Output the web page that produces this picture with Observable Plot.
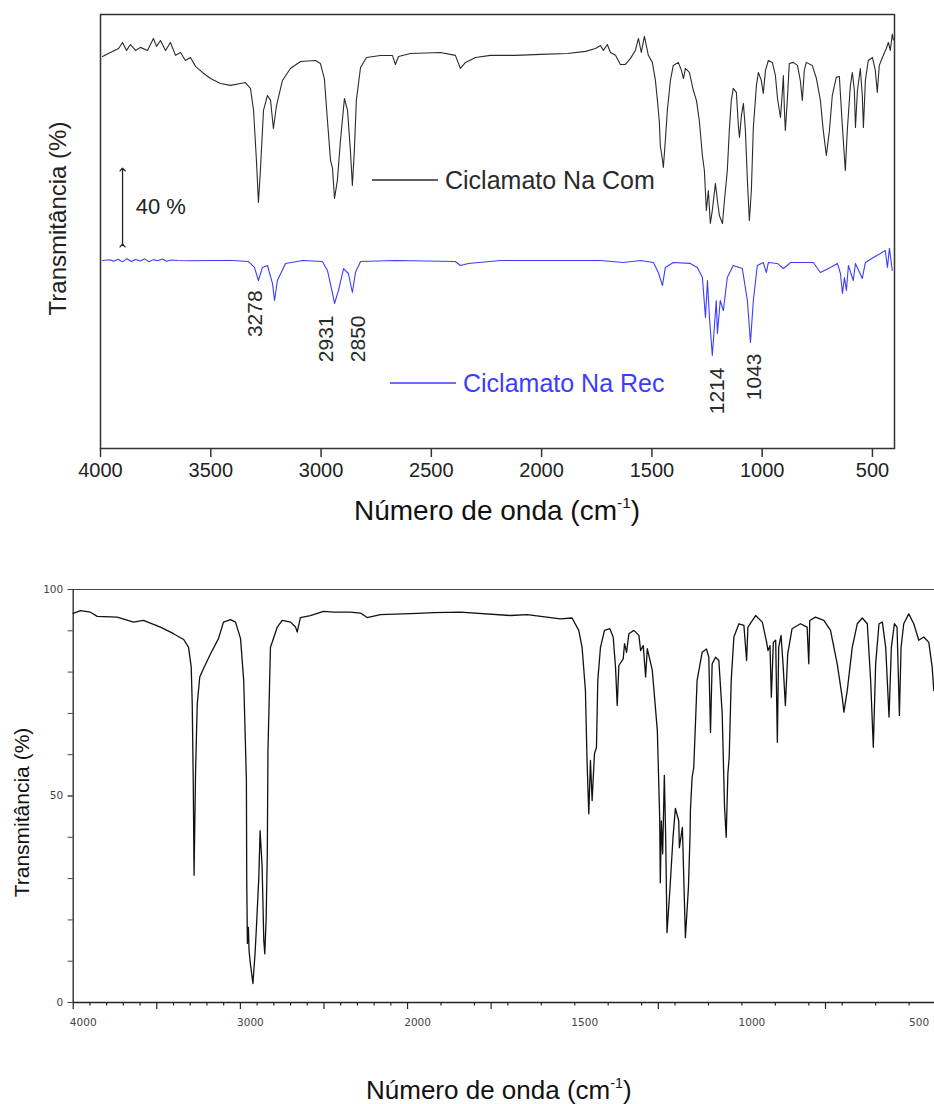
<!DOCTYPE html>
<html><head><meta charset="utf-8">
<script src="https://cdn.jsdelivr.net/npm/d3@7"></script>
<script src="https://cdn.jsdelivr.net/npm/@observablehq/plot@0.6"></script>
<style>
body{margin:0;background:#fff;}
#page{position:relative;width:934px;height:1104px;overflow:hidden;background:#fff;font-family:"Liberation Sans",Arial,sans-serif;}
#page svg{position:absolute;left:0;}
.ttl{position:absolute;white-space:nowrap;line-height:1;color:#111;}
.ttl sup{font-size:0.55em;line-height:0;vertical-align:0.75em;}
</style></head><body><div id="page"></div>
<script>
// ---------- Top panel: FTIR of sodium cyclamate (commercial vs recovered) ----------
const comW = [3991,3955,3918,3900,3882,3864,3841,3819,3787,3760,3746,3728,3705,3683,3660,3637,3615,3592,3569,3538,3501,3456,3411,3365,3343,3320,3306,3293,3284,3275,3261,3243,3229,3216,3202,3175,3139,3093,3025,3003,2985,2971,2957,2948,2939,2926,2912,2894,2880,2867,2858,2849,2840,2821,2794,2731,2676,2663,2649,2595,2459,2391,2368,2345,2300,2232,2119,2005,1883,1801,1756,1733,1720,1702,1688,1665,1643,1620,1597,1575,1561,1548,1534,1516,1498,1484,1475,1466,1462,1453,1448,1439,1430,1416,1403,1380,1366,1357,1348,1330,1312,1298,1285,1271,1262,1253,1244,1235,1226,1212,1203,1194,1180,1171,1158,1149,1140,1131,1117,1108,1103,1094,1085,1076,1067,1058,1049,1040,1026,1017,1004,995,985,972,954,940,931,922,917,908,904,899,895,886,877,859,840,827,818,809,800,773,754,736,723,709,695,682,664,650,636,623,614,600,591,582,577,568,555,546,541,532,519,500,487,478,469,455,437,428,419,410,405];
const comT = [93.3,95.4,97.5,100.7,96.5,99.6,96.5,98.1,96.5,102.8,98.6,101.7,96.5,100.7,93.9,95.4,91.2,92.8,88.1,84.9,81.7,79.1,78.1,79.1,79.6,76.5,64.9,38.6,16.5,33.3,64.9,72.8,70.2,55.4,67.5,80.7,87.0,90.7,91.2,89.6,81.7,59.6,38.6,34.4,18.6,28.1,49.1,71.2,64.9,43.9,25.4,43.9,70.2,87.5,92.8,93.8,93.8,89.1,93.3,94.9,95.4,93.9,87.0,90.2,92.8,93.9,93.9,94.4,94.9,96.0,97.5,99.1,96.5,99.6,95.4,93.9,89.1,89.1,92.3,96.5,102.8,95.4,103.9,93.9,90.2,80.7,70.2,58.6,46.5,39.6,34.9,49.1,64.9,80.7,88.6,90.2,86.0,81.7,87.0,84.9,75.4,70.2,59.6,41.2,33.3,12.3,22.8,5.4,12.3,26.5,17.5,9.6,5.4,17.5,33.3,54.4,70.2,76.5,74.4,57.0,50.7,62.3,68.6,54.4,28.1,7.0,22.8,55.9,78.1,84.9,80.7,73.9,86.0,91.2,90.2,83.3,71.7,64.9,61.2,75.4,83.3,64.9,54.4,70.2,89.6,90.2,88.6,80.7,70.2,86.0,90.2,88.6,81.7,70.2,54.4,41.2,54.4,72.8,82.3,82.8,56.0,33.3,54.4,78.1,84.9,75.4,56.0,75.4,87.0,72.8,56.0,80.7,91.2,92.8,86.0,74.4,88.6,92.8,97.5,100.7,96.5,105.1,102];
const recW = [3991,3960,3940,3920,3900,3880,3860,3840,3820,3800,3780,3760,3740,3720,3700,3680,3650,3600,3500,3400,3329,3302,3284,3266,3243,3220,3211,3198,3161,3084,2994,2971,2948,2939,2921,2898,2876,2858,2844,2821,2663,2391,2368,2332,2187,1733,1629,1552,1493,1471,1452,1439,1403,1326,1294,1271,1257,1248,1239,1226,1217,1208,1203,1190,1176,1158,1131,1090,1067,1053,1040,1022,995,981,972,931,904,886,872,768,736,691,659,645,636,627,618,609,587,577,546,532,496,464,442,432,423,410];
const recT = [98.9,99.3,98.6,99.6,98.2,99.9,98.4,99.5,98.7,99.8,98.3,99.4,98.8,99.7,98.5,99.2,98.9,98.8,98.9,98.9,98.4,95.3,88.4,95.3,96.3,86.8,77.9,88.4,97.4,98.9,98.4,93.7,81.6,76.3,83.2,94.7,92.1,82.1,92.6,98.4,98.9,98.4,96.3,97.4,98.9,98.9,97.9,98.9,97.9,92.6,85.8,95.3,97.9,97.4,95.3,90.0,68.9,88.4,68.9,48.9,63.7,77.9,60.5,77.9,72.6,90.0,96.3,94.7,77.9,55.8,77.9,96.3,97.9,92.6,97.9,97.4,94.7,96.3,97.9,97.9,92.6,95.3,97.4,92.1,81.6,90.0,83.2,96.3,88.4,97.4,89.5,97.9,100.5,102.6,104.2,95.3,105.3,93.7];
const seriesNames = ["Ciclamato Na Com", "Ciclamato Na Rec"];
const comOffset = 113;            // vertical stacking offset of the upper trace (%)
const topTicks = [4000,3500,3000,2500,2000,1500,1000,500];
const peakLabels = ["3278","2931","2850","1214","1043"];
const peakLabelAt = [3297,2976,2830,1203,1035];   // wavenumber where each label sits
const peakLabelTop = [83.2,70.0,70.0,42.6,50.0];
const scaleBarPercent = 40;
const scaleBarBase = 106.8;
const scaleBarW = 3900;

// ---------- Bottom panel: reference spectrum ----------
const sysW = [4000,3956,3897,3856,3737,3639,3580,3478,3400,3339,3310,3294,3288,3282,3277,3268,3258,3243,3221,3179,3131,3101,3059,3029,2999,2980,2964,2962,2958,2952,2948,2942,2925,2912,2904,2890,2882,2870,2860,2854,2846,2839,2835,2820,2780,2750,2700,2670,2660,2641,2581,2503,2443,2342,2282,2242,2162,1971,1922,1842,1692,1642,1543,1508,1488,1478,1468,1463,1458,1453,1448,1441,1435,1431,1423,1411,1395,1385,1378,1373,1368,1355,1351,1345,1338,1323,1308,1303,1295,1288,1283,1268,1253,1246,1244,1241,1237,1232,1228,1224,1215,1206,1199,1189,1187,1178,1169,1160,1155,1154,1149,1144,1134,1119,1106,1099,1094,1089,1079,1069,1059,1052,1047,1042,1038,1032,1024,1009,994,986,982,959,939,926,922,916,912,906,899,894,890,883,877,870,863,850,825,805,800,797,780,755,735,715,700,695,685,670,655,640,625,615,607,600,590,580,570,560,553,544,536,529,524,516,501,486,471,456,441,431,426];
const sysT = [94.2,94.9,94.5,93.5,93.3,92.1,92.5,90.9,89.3,87.9,86.0,81.2,72.3,53.8,30.8,56.0,72.3,78.8,80.8,84.4,88.1,92.1,92.7,92.1,88.1,77.9,53.8,30.0,14.3,18.2,12.6,10.0,4.6,12.0,18.2,30.0,41.6,33.0,15.0,11.8,20.0,36.0,61.0,86.0,90.8,92.5,92.1,90.9,89.7,93.2,93.7,94.7,94.5,94.5,94.3,93.2,93.9,94.2,94.4,94.5,93.7,93.9,92.9,93.1,90.1,86.0,75.5,57.8,45.7,58.6,48.9,60.2,61.8,78.0,86.0,90.1,90.5,88.5,81.2,71.9,81.6,83.2,86.9,84.8,89.3,90.1,88.9,85.2,86.4,78.8,85.7,80.4,65.9,45.0,29.0,44.0,36.0,55.0,40.0,16.9,27.8,40.0,47.0,44.0,37.5,42.4,15.7,27.8,40.9,46.5,54.5,56.9,78.0,84.8,85.6,83.6,65.4,82.0,83.6,82.8,70.0,47.3,40.0,55.4,59.4,78.0,88.5,91.7,91.3,82.8,90.9,93.7,92.1,87.2,85.2,86.4,73.9,87.2,87.7,63.0,86.0,88.9,82.0,71.9,84.4,90.5,91.7,90.9,82.0,92.5,93.3,92.5,90.1,82.0,73.9,70.3,75.5,86.0,91.7,93.1,91.7,78.0,61.8,82.0,91.7,92.1,86.0,69.1,86.0,91.7,90.9,69.5,86.0,91.7,94.1,91.7,87.7,88.5,87.2,81.2,75.5];
const bottomLabelTicks = [4000,3000,2000,1500,1000,500];
const bottomLongTicks = [4000,3500,3000,2500,2000,1750,1250,750];
const bottomShortTicks = [3900,3800,3700,3600,3400,3300,3200,3100,2900,2800,2700,2600,2400,2300,2200,2100,1900,1800,1700,1600,1500,1400,1300,1200,1100,1000,900,800,700,600,500];
const yLabelTicks = [0,50,100];
const yMinorTicks = [0,10,20,30,40,50,60,70,80,90,100];
const bottomEnd = 424;

const yTitle = "Transmitância (%)";
const page = document.getElementById("page");

// ===== TOP PLOT =====
const com = comW.map((w,i)=>({w, v: comT[i] + comOffset}));
const rec = recW.map((w,i)=>({w, v: recT[i]}));
const font = "'Liberation Sans', Arial, sans-serif";

const topSvg = Plot.plot({
  width: 934, height: 540,
  marginLeft: 100, marginRight: 40, marginTop: 14, marginBottom: 92,
  style: {fontFamily: font, background: "transparent", color: "#222"},
  x: {domain: [4000, 400]},
  y: {domain: [0, 228.4], axis: null},
  marks: [
    Plot.axisX({ticks: topTicks, tickSize: 9, tickPadding: 5, fontSize: 20, tickFormat: d => String(d), label: null, stroke: "#333", strokeWidth: 1.5, fill: "#222"}),
    Plot.line(com, {x: "w", y: "v", stroke: "#2b2b2b", strokeWidth: 1.1, strokeLinejoin: "round"}),
    Plot.line(rec, {x: "w", y: "v", stroke: "#3c3cff", strokeWidth: 1.1, strokeLinejoin: "round"}),
    Plot.text(peakLabels, {x: (d,i) => peakLabelAt[i], y: (d,i) => peakLabelTop[i], text: d => d, rotate: -90, textAnchor: "end", fontSize: 21, fill: "#2a2a2a"}),
    Plot.link([scaleBarPercent], {x1: () => scaleBarW, x2: () => scaleBarW, y1: () => scaleBarBase, y2: d => scaleBarBase + d, stroke: "#222", strokeWidth: 1.3, markerStart: "arrow", markerEnd: "arrow"}),
    Plot.text([scaleBarPercent], {x: () => scaleBarW - 60, y: d => scaleBarBase + d/2 + 0.5, text: d => `${d} %`, textAnchor: "start", fontSize: 22, fill: "#222"}),
    Plot.text([yTitle], {frameAnchor: "left", textAnchor: "middle", dx: -42, dy: -13, rotate: -90, fontSize: 24, fill: "#222"}),
    Plot.frame({stroke: "#333", strokeWidth: 1.5})
  ]
});
topSvg.style.top = "0px";
page.appendChild(topSvg);

// legend (inside the top plot)
const lg = d3.select(topSvg).append("g").attr("font-family", font).attr("font-size", 25).attr("text-anchor", "start");
const legendItems = [
  {name: seriesNames[0], color: "#2b2b2b", text: "#2a2a2a", x: 372, y: 180},
  {name: seriesNames[1], color: "#3c3cff", text: "#3c3cff", x: 390, y: 383}
];
legendItems.forEach(it => {
  lg.append("line").attr("x1", it.x).attr("x2", it.x + 66).attr("y1", it.y).attr("y2", it.y).attr("stroke", it.color).attr("stroke-width", 1.4);
  lg.append("text").attr("x", it.x + 73).attr("y", it.y).attr("dy", "0.36em").attr("text-anchor", "start").attr("fill", it.text).text(it.name);
});

// ===== BOTTOM PLOT =====
const split = w => w >= 2000 ? w : 2000 - 2 * (2000 - w);
const unsplit = u => u >= 2000 ? u : 2000 - (2000 - u) / 2;
const sys = sysW.map((w,i)=>({u: split(w), t: sysT[i]}));
const tickFont = "'DejaVu Sans', Verdana, sans-serif";

const botSvg = Plot.plot({
  width: 934, height: 544,
  marginLeft: 72.7, marginRight: 0, marginTop: 29, marginBottom: 102,
  style: {fontFamily: font, background: "transparent", color: "#222", overflow: "visible"},
  x: {domain: [4000, split(bottomEnd)]},
  y: {domain: [0, 100]},
  marks: [
    Plot.ruleY([100], {stroke: "#444", strokeWidth: 1.2}),
    Plot.ruleY([0], {stroke: "#222", strokeWidth: 1.3}),
    Plot.ruleX([4000], {stroke: "#222", strokeWidth: 1.3}),
    Plot.axisX({ticks: bottomLongTicks.map(split), tickSize: 7, tickFormat: () => "", label: null, stroke: "#222", strokeWidth: 1.2}),
    Plot.axisX({ticks: bottomShortTicks.map(split), tickSize: 3.5, tickFormat: () => "", label: null, stroke: "#222", strokeWidth: 1.2}),
    Plot.axisX({ticks: bottomLabelTicks.map(split), tickSize: 0, tickPadding: 16, dx: 10, tickFormat: u => String(unsplit(u)), label: null, fontSize: 10.5, fontFamily: tickFont, fill: "#444"}),
    Plot.axisY({ticks: yMinorTicks, tickSize: 5, tickFormat: () => "", label: null, stroke: "#444"}),
    Plot.axisY({ticks: yLabelTicks, tickSize: 5, tickPadding: 5, label: null, fontSize: 10.5, fontFamily: tickFont, fill: "#444", stroke: "#444"}),
    Plot.line(sys, {x: "u", y: "t", stroke: "#111", strokeWidth: 1.3, strokeLinejoin: "round"}),
    Plot.text([yTitle], {frameAnchor: "left", textAnchor: "middle", dx: -50.7, dy: 16.5, rotate: -90, fontSize: 21, fill: "#111"})
  ]
});
botSvg.style.top = "560px";
page.appendChild(botSvg);

// axis titles (with superscript)
function addTitle(cx, top, size) {
  const d = document.createElement("div");
  d.className = "ttl";
  d.style.fontSize = size + "px";
  d.style.top = top + "px";
  d.innerHTML = "Número de onda (cm<sup>-1</sup>)";
  page.appendChild(d);
  d.style.left = (cx - d.offsetWidth / 2) + "px";
}
addTitle(497, 497, 28);
addTitle(499, 1077, 26);
</script></body></html>
